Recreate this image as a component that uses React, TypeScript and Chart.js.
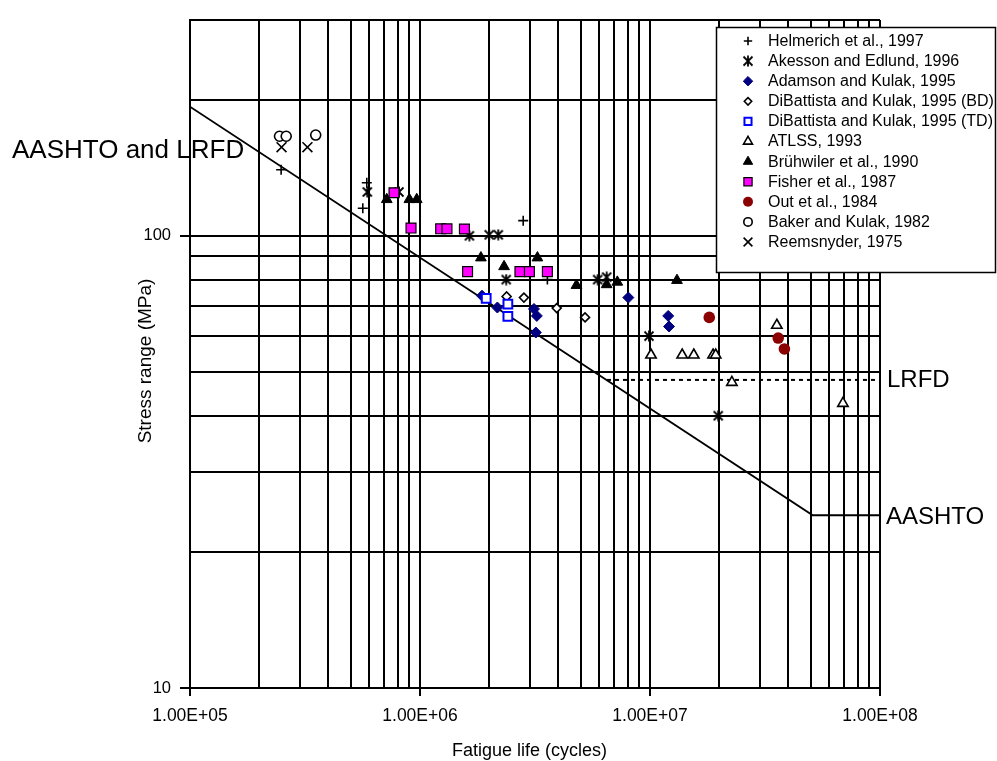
import React, { useEffect, useRef } from 'react';
import { Chart, registerables, PointElement } from 'chart.js';

Chart.register(...registerables);

const FONT = "'Liberation Sans', Arial, Helvetica, sans-serif";

// ---------- axis ticks ----------
const xTickValues = [
  1e5, 2e5, 3e5, 4e5, 5e5, 6e5, 7e5, 8e5, 9e5,
  1e6, 2e6, 3e6, 4e6, 5e6, 6e6, 7e6, 8e6, 9e6,
  1e7, 2e7, 3e7, 4e7, 5e7, 6e7, 7e7, 8e7, 9e7,
  1e8,
];
const xLabelValues = [1e5, 1e6, 1e7, 1e8];
const xLabelTexts = ['1.00E+05', '1.00E+06', '1.00E+07', '1.00E+08'];
const yTickValues = [10, 20, 30, 40, 50, 60, 70, 80, 90, 100, 200, 300];
const yLabelValues = [10, 100];
const yLabelTexts = ['10', '100'];

// ---------- data (N cycles, stress range MPa) ----------
const helmerichN = [2.49e5, 5.87e5, 5.64e5, 2.81e6, 3.58e6];
const helmerichS = [140, 131, 115, 108, 80];

const akessonN = [5.9e5, 8.1e5, 1.64e6, 2.0e6, 2.19e6, 2.37e6, 5.92e6, 6.48e6, 9.9e6, 1.98e7];
const akessonS = [125, 125, 100, 100.5, 100.5, 80, 80, 81, 60, 40];

const adamsonN = [1.86e6, 2.17e6, 3.13e6, 3.22e6, 3.19e6, 8.05e6, 1.2e7, 1.21e7];
const adamsonS = [73.7, 69.4, 68.9, 66.5, 61.1, 73.0, 66.5, 63.0];

const dibattistaBdN = [2.38e6, 2.83e6, 3.93e6, 5.22e6];
const dibattistaBdS = [73.4, 73.0, 69.2, 66.0];

const dibattistaTdN = [1.94e6, 2.41e6, 2.41e6];
const dibattistaTdS = [72.7, 70.6, 66.3];

const atlssN = [1.01e7, 1.38e7, 1.55e7, 1.88e7, 1.93e7, 2.27e7, 3.56e7, 6.9e7];
const atlssS = [54.5, 54.5, 54.5, 54.5, 54.5, 47.4, 63.4, 42.6];

const bruhwilerN = [7.17e5, 8.99e5, 9.68e5, 1.84e6, 2.32e6, 3.24e6, 4.79e6, 6.48e6, 7.21e6, 1.31e7];
const bruhwilerS = [120.3, 120.3, 120.3, 89.4, 85.5, 89.4, 77.7, 78.0, 79.0, 79.7];

const fisherN = [7.71e5, 9.14e5, 1.23e6, 1.31e6, 1.56e6, 1.61e6, 2.72e6, 2.99e6, 3.58e6];
const fisherS = [124.5, 104.0, 103.6, 103.6, 103.5, 83.3, 83.3, 83.3, 83.3];

const outN = [1.81e7, 3.61e7, 3.84e7];
const outS = [66.0, 59.4, 56.2];

const bakerN = [2.45e5, 2.62e5, 3.52e5];
const bakerS = [166, 166, 167];

const reemsnyderN = [2.5e5, 3.24e5];
const reemsnyderS = [157, 157];

// design curves
const aashtoN = [1e5, 5.1e7, 1e8];
const aashtoS = [193, 24.1, 24.1];
const lrfdN = [6.5e6, 1e8];
const lrfdS = [48, 48];

// ---------- helpers ----------
const near = (a: number, b: number) => Math.abs(a - b) / b < 1e-6;
const pairs = (ns: number[], ss: number[]) => ns.map((n, i) => ({ x: n, y: ss[i] }));

function makeAsterisk(): HTMLCanvasElement {
  const c = document.createElement('canvas');
  c.width = 12;
  c.height = 12;
  const g = c.getContext('2d')!;
  g.strokeStyle = '#000';
  g.lineWidth = 1.8;
  g.beginPath();
  g.moveTo(1.5, 1.5);
  g.lineTo(10.5, 10.5);
  g.moveTo(10.5, 1.5);
  g.lineTo(1.5, 10.5);
  g.moveTo(6, 0.5);
  g.lineTo(6, 11.5);
  g.stroke();
  return c;
}

export default function App() {
  const canvasRef = useRef<HTMLCanvasElement | null>(null);

  useEffect(() => {
    if (!canvasRef.current) return;
    const asterisk = makeAsterisk();

    const series: any[] = [
      { label: 'Helmerich et al., 1997', n: helmerichN, s: helmerichS, pointStyle: 'cross', radius: 5, backgroundColor: '#000', borderColor: '#000', borderWidth: 1.6 },
      { label: 'Akesson and Edlund, 1996', n: akessonN, s: akessonS, pointStyle: asterisk, radius: 6, backgroundColor: '#000', borderColor: '#000', borderWidth: 1.6 },
      { label: 'Adamson and Kulak, 1995', n: adamsonN, s: adamsonS, pointStyle: 'rectRot', radius: 5.5, backgroundColor: '#000080', borderColor: '#000080', borderWidth: 1 },
      { label: 'DiBattista and Kulak, 1995 (BD)', n: dibattistaBdN, s: dibattistaBdS, pointStyle: 'rectRot', radius: 4.5, backgroundColor: '#ffffff', borderColor: '#000', borderWidth: 1.6 },
      { label: 'DiBattista and Kulak, 1995 (TD)', n: dibattistaTdN, s: dibattistaTdS, pointStyle: 'rect', radius: 6.2, backgroundColor: '#ffffff', borderColor: '#0000ff', borderWidth: 2 },
      { label: 'ATLSS, 1993', n: atlssN, s: atlssS, pointStyle: 'triangle', radius: 6, backgroundColor: '#ffffff', borderColor: '#000', borderWidth: 1.6 },
      { label: 'Brühwiler et al., 1990', n: bruhwilerN, s: bruhwilerS, pointStyle: 'triangle', radius: 6.2, backgroundColor: '#000', borderColor: '#000', borderWidth: 1 },
      { label: 'Fisher et al., 1987', n: fisherN, s: fisherS, pointStyle: 'rect', radius: 7, backgroundColor: '#ff00ff', borderColor: '#000', borderWidth: 1.2 },
      { label: 'Out et al., 1984', n: outN, s: outS, pointStyle: 'circle', radius: 5.8, backgroundColor: '#8b0000', borderColor: '#8b0000', borderWidth: 0 },
      { label: 'Baker and Kulak, 1982', n: bakerN, s: bakerS, pointStyle: 'circle', radius: 5, backgroundColor: '#ffffff', borderColor: '#000', borderWidth: 1.6 },
      { label: 'Reemsnyder, 1975', n: reemsnyderN, s: reemsnyderS, pointStyle: 'crossRot', radius: 7, backgroundColor: '#000', borderColor: '#000', borderWidth: 1.6 },
    ];

    const datasets: any[] = series.map((sr, i) => ({
      type: 'scatter',
      label: sr.label,
      data: pairs(sr.n, sr.s),
      pointStyle: sr.pointStyle,
      pointRadius: sr.radius,
      pointBackgroundColor: sr.backgroundColor,
      pointBorderColor: sr.borderColor,
      pointBorderWidth: sr.borderWidth,
      showLine: false,
      order: -i,
    }));

    datasets.push({
      type: 'scatter',
      label: 'AASHTO',
      data: pairs(aashtoN, aashtoS),
      showLine: true,
      borderColor: '#000',
      borderWidth: 1.8,
      pointRadius: 0,
      fill: false,
      order: 50,
    });
    datasets.push({
      type: 'scatter',
      label: 'LRFD',
      data: pairs(lrfdN, lrfdS),
      showLine: true,
      borderColor: '#000',
      borderWidth: 2,
      borderDash: [4, 4],
      pointRadius: 0,
      fill: false,
      order: 49,
    });

    const overlay = {
      id: 'overlay',
      afterDraw(chart: any) {
        const ctx = chart.ctx as CanvasRenderingContext2D;
        ctx.save();
        ctx.fillStyle = '#000';
        ctx.textAlign = 'left';
        ctx.textBaseline = 'alphabetic';
        ctx.font = `26px ${FONT}`;
        ctx.fillText('AASHTO and LRFD', 12, 158);
        ctx.font = `24px ${FONT}`;
        ctx.fillText('LRFD', 887, 387);
        ctx.fillText('AASHTO', 886, 524);

        ctx.font = `18px ${FONT}`;
        ctx.textAlign = 'center';
        ctx.textBaseline = 'middle';
        ctx.fillText('Fatigue life (cycles)', 529.5, 751);

        ctx.save();
        ctx.translate(145.5, 361);
        ctx.rotate(-Math.PI / 2);
        ctx.font = `19px ${FONT}`;
        ctx.fillText('Stress range (MPa)', 0, 0);
        ctx.restore();

        // legend box
        ctx.fillStyle = '#ffffff';
        ctx.fillRect(716, 27, 280, 246);
        ctx.strokeStyle = '#000';
        ctx.lineWidth = 1.5;
        ctx.strokeRect(716.5, 27.5, 279, 245);

        series.forEach((sr, i) => {
          const y = 41 + 20.1 * i;
          const el: any = new (PointElement as any)({
            x: 748,
            y,
            options: {
              pointStyle: sr.pointStyle,
              radius: sr.pointStyle === 'rect' ? sr.radius - 1.2 : sr.radius - 0.8,
              rotation: 0,
              backgroundColor: sr.backgroundColor,
              borderColor: sr.borderColor,
              borderWidth: sr.borderWidth,
            },
          });
          el.draw(ctx);
          ctx.fillStyle = '#000';
          ctx.font = `16px ${FONT}`;
          ctx.textAlign = 'left';
          ctx.textBaseline = 'middle';
          ctx.fillText(sr.label, 768, y + 0.5);
        });
        ctx.restore();
      },
    };

    const chart = new Chart(canvasRef.current, {
      type: 'scatter',
      data: { datasets },
      plugins: [overlay],
      options: {
        animation: false,
        responsive: true,
        maintainAspectRatio: false,
        events: [],
        layout: { padding: { left: 100, top: 20, right: 117, bottom: 0 } },
        plugins: {
          legend: { display: false },
          tooltip: { enabled: false },
          title: { display: false },
        },
        scales: {
          x: {
            type: 'logarithmic',
            min: 1e5,
            max: 1e8,
            afterBuildTicks: (scale: any) => {
              scale.ticks = xTickValues.map((v) => ({ value: v }));
            },
            afterFit: (scale: any) => {
              scale.height = 73;
            },
            ticks: {
              autoSkip: false,
              maxRotation: 0,
              minRotation: 0,
              padding: 10,
              color: '#000',
              font: { family: FONT, size: 17.5 },
              callback: (value: any) => {
                const idx = xLabelValues.findIndex((lv) => near(Number(value), lv));
                return idx >= 0 ? xLabelTexts[idx] : '';
              },
            },
            grid: {
              color: '#000',
              lineWidth: 2,
              drawTicks: true,
              tickLength: 8,
              tickWidth: 2,
              tickColor: (c: any) =>
                c.tick && xLabelValues.some((lv) => near(c.tick.value, lv)) ? '#000' : 'rgba(0,0,0,0)',
            },
            border: { display: true, color: '#000', width: 2 },
          },
          y: {
            type: 'logarithmic',
            min: 10,
            max: 300,
            afterBuildTicks: (scale: any) => {
              scale.ticks = yTickValues.map((v) => ({ value: v }));
            },
            afterFit: (scale: any) => {
              scale.width = 90;
            },
            ticks: {
              autoSkip: false,
              padding: 9,
              color: '#000',
              font: { family: FONT, size: 16.5 },
              callback: (value: any) => {
                const idx = yLabelValues.findIndex((lv) => near(Number(value), lv));
                return idx >= 0 ? yLabelTexts[idx] : '';
              },
            },
            grid: {
              color: '#000',
              lineWidth: 2,
              drawTicks: true,
              tickLength: 10,
              tickWidth: 2,
              tickColor: (c: any) =>
                c.tick && yLabelValues.some((lv) => near(c.tick.value, lv)) ? '#000' : 'rgba(0,0,0,0)',
            },
            border: { display: true, color: '#000', width: 2 },
          },
        },
      } as any,
    });

    return () => chart.destroy();
  }, []);

  return (
    <div style={{ position: 'fixed', left: 0, top: 0, width: 997, height: 761, background: '#fff' }}>
      <canvas ref={canvasRef} style={{ display: 'block' }} />
    </div>
  );
}
